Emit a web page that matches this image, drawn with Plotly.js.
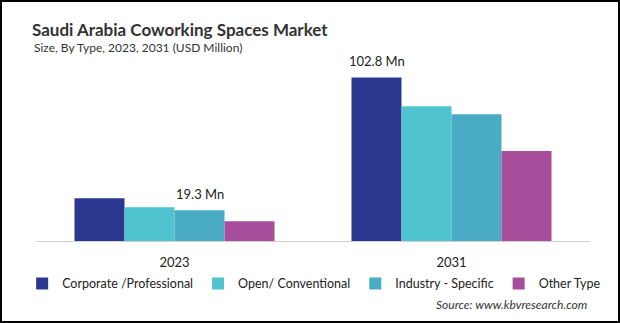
<!DOCTYPE html>
<html>
<head>
<meta charset="utf-8">
<script src="https://cdn.plot.ly/plotly-3.0.1.min.js"></script>
<style>
  html, body { margin: 0; padding: 0; background: #fff; }
  #wrap { position: relative; width: 620px; height: 323px; }
  #chart { width: 620px; height: 323px; }
  #frame { position: absolute; left: 0; top: 0; width: 620px; height: 323px; box-sizing: border-box; border: 2px solid #000; pointer-events: none; }
</style>
</head>
<body>
<div id="wrap"><div id="chart"></div><div id="frame"></div></div>
<script>
const years = ['2023', '2031'];
const seriesNames = ['Corporate /Professional', 'Open/ Conventional', 'Industry - Specific', 'Other Type'];
const corporate = [26.8, 102.8];
const openConv = [21.2, 84.6];
const industry = [19.3, 79.7];
const otherType = [12.4, 56.5];
const colors = ['#2a388f', '#4fc4cf', '#4aabc4', '#a84c9c'];
const labelSeries = [2, 0];   // which series is labelled for each year
const titleText = 'Saudi Arabia Coworking Spaces Market';
const subtitleText = 'Size, By Type, 2023, 2031 (USD Million)';
const sourceText = 'Source: www.kbvresearch.com';

const allValues = [corporate, openConv, industry, otherType];
const baseFont = 'Lato, "Open Sans", sans-serif';

const traces = allValues.map((vals, i) => ({
  type: 'bar',
  name: seriesNames[i],
  x: years,
  y: vals,
  marker: { color: colors[i], line: { width: 0 } },
  hoverinfo: 'skip'
}));

const barShift = [-75, -25, 25, 75];
const annotations = years.map((yr, j) => {
  const s = labelSeries[j];
  return {
    x: j, y: allValues[s][j], xref: 'x', yref: 'y',
    text: allValues[s][j].toFixed(1) + ' Mn',
    showarrow: false, xanchor: 'center', yanchor: 'bottom',
    xshift: barShift[s], yshift: 6,
    font: { family: baseFont, size: 13, color: '#222' }
  };
});
annotations.push({
  xref: 'paper', yref: 'paper', x: -0.007, y: 1.0105,
  xanchor: 'left', yanchor: 'middle', showarrow: false,
  text: subtitleText, font: { family: baseFont, size: 12, color: '#333' }
});
annotations.push({
  xref: 'paper', yref: 'paper', x: 0.998, y: -0.33,
  xanchor: 'right', yanchor: 'middle', showarrow: false,
  text: '<i>' + sourceText + '</i>', font: { family: baseFont, size: 12, color: '#333' }
});

const layout = {
  width: 620, height: 323,
  margin: { l: 36, r: 30, t: 50, b: 82, pad: 0 },
  paper_bgcolor: '#fff', plot_bgcolor: '#fff',
  barmode: 'group', bargap: 0.278, bargroupgap: 0,
  title: {
    text: '<b>' + titleText + '</b>',
    xref: 'container', yref: 'container', x: 32 / 620, xanchor: 'left',
    y: 1 - 30 / 323, yanchor: 'middle',
    font: { family: baseFont, size: 17, color: '#333' }
  },
  xaxis: {
    type: 'category', range: [-0.5, 1.5], showline: true, linecolor: '#d0d0d0', linewidth: 1,
    ticks: '', showgrid: false, zeroline: false, ticklabelstandoff: 9,
    tickfont: { family: baseFont, size: 13, color: '#222' }, fixedrange: true
  },
  yaxis: {
    range: [0, 120], visible: false, showgrid: false, zeroline: false, fixedrange: true
  },
  showlegend: true,
  legend: {
    orientation: 'h', x: -0.025, xanchor: 'left', y: -0.225, yanchor: 'middle',
    font: { family: baseFont, size: 12.5, color: '#222' },
    itemwidth: 30, traceorder: 'normal'
  },
  annotations: annotations
};

Plotly.newPlot('chart', traces, layout, { displayModeBar: false, staticPlot: true });
</script>
</body>
</html>
